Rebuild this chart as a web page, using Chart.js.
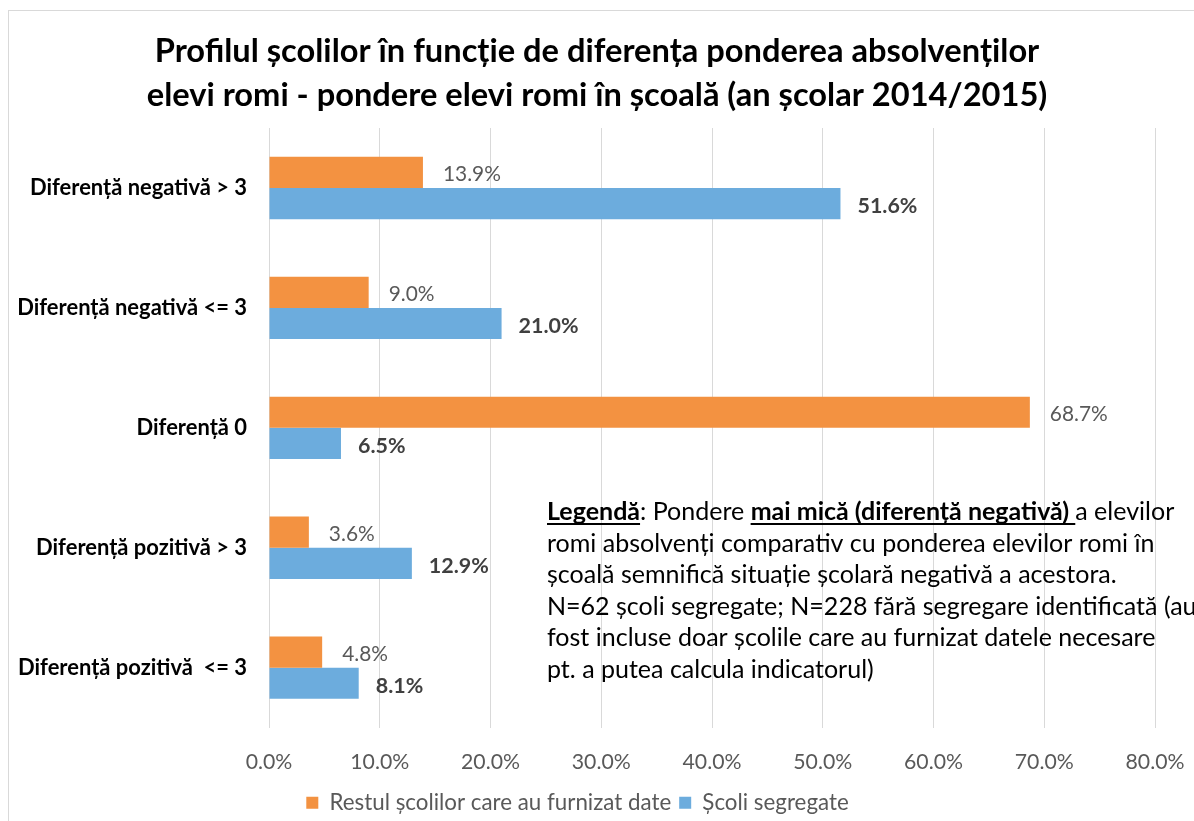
<!DOCTYPE html>
<html><head><meta charset="utf-8">
<script src="https://cdn.jsdelivr.net/npm/chart.js@4.4.1/dist/chart.umd.min.js"></script>
<style>html,body{margin:0;padding:0;background:#fff;}#wrap{width:1194px;height:821px;}</style>
</head><body><div id="wrap"><canvas id="c" width="1194" height="821"></canvas></div>
<script>
const categories = ["Diferență negativă > 3", "Diferență negativă <= 3", "Diferență 0", "Diferență pozitivă > 3", "Diferență pozitivă  <= 3"];
const restulValues = [13.9, 9.0, 68.7, 3.6, 4.8];
const segregateValues = [51.6, 21.0, 6.5, 12.9, 8.1];
const seriesNames = ["Restul școlilor care au furnizat date", "Școli segregate"];
const titleLines = ["Profilul școlilor în funcție de diferența ponderea absolvenților", "elevi romi - pondere elevi romi în școală (an școlar 2014/2015)"];
const noteLines = [
  [{t:"Legendă", b:1, u:1}, {t:": Pondere "}, {t:"mai mică (diferență negativă) ", b:1, u:1}, {t:"a elevilor"}],
  [{t:"romi absolvenți comparativ cu ponderea elevilor romi în"}],
  [{t:"școală semnifică situație școlară negativă a acestora."}],
  [{t:"N=62 școli segregate; N=228 fără segregare identificată (au"}],
  [{t:"fost incluse doar școlile care au furnizat datele necesare"}],
  [{t:"pt. a putea calcula indicatorul)"}]
];
const FAM = "Lato, 'Open Sans', sans-serif";
const mctx = document.createElement('canvas').getContext('2d');
function fit(text, weight, target){
  mctx.font = weight + " 100px " + FAM;
  return 100 * target / mctx.measureText(text).width;
}
const catSize = fit(categories[1], "bold", 230);
const tickSize = fit("10.0%", "normal", 59);
const legSize = fit(seriesNames[0], "normal", 342);
const titleSize = fit(titleLines[0], "bold", 885);
const noteSize = fit(noteLines[1][0].t, "normal", 608);
const dlSize = fit("13.9%", "normal", 58);
const dlbSize = fit("51.6%", "bold", 60);

const ORANGE = "#F39241", BLUE = "#6CACDD";

const deco = {
  id: 'deco',
  beforeDraw(chart){
    const c = chart.ctx;
    c.save();
    c.fillStyle = '#fff'; c.fillRect(0,0,chart.width,chart.height);
    c.strokeStyle = '#d9d9d9'; c.lineWidth = 1;
    c.strokeRect(8.5, 10.5, 1300, 1000);
    c.restore();
  },
  afterDatasetsDraw(chart){
    const c = chart.ctx;
    c.save();
    c.textBaseline = 'middle'; c.textAlign = 'left';
    chart.data.datasets.forEach((ds, di) => {
      const meta = chart.getDatasetMeta(di);
      meta.data.forEach((el, i) => {
        const v = ds.data[i];
        if (di === 0){ c.font = "normal " + dlSize + "px " + FAM; c.fillStyle = '#595959'; c.fillText(v.toFixed(1)+'%', el.x + 20, el.y + 2); }
        else { c.font = "bold " + dlbSize + "px " + FAM; c.fillStyle = '#404040'; c.fillText(v.toFixed(1)+'%', el.x + 17, el.y + 3); }
      });
    });
    c.restore();
  },
  afterDraw(chart){
    const c = chart.ctx;
    c.save();
    c.textAlign = 'center'; c.textBaseline = 'middle'; c.fillStyle = '#000';
    c.font = "bold " + titleSize + "px " + FAM;
    c.fillText(titleLines[0], 597, 51);
    c.fillText(titleLines[1], 597, 95);
    c.textAlign = 'left'; c.textBaseline = 'alphabetic';
    noteLines.forEach((runs, li) => {
      let x = 547; const y = 520 + li * 31.5;
      runs.forEach(r => {
        c.font = (r.b ? "bold " : "normal ") + noteSize + "px " + FAM;
        c.fillText(r.t, x, y);
        const w = c.measureText(r.t).width;
        if (r.u){ c.fillRect(x, y + 3, w, 2); }
        x += w;
      });
    });
    c.restore();
  }
};

new Chart(document.getElementById('c'), {
  type: 'bar',
  data: {
    labels: categories,
    datasets: [
      {label: seriesNames[0], data: restulValues, backgroundColor: ORANGE, borderWidth: 0},
      {label: seriesNames[1], data: segregateValues, backgroundColor: BLUE, borderWidth: 0}
    ]
  },
  options: {
    indexAxis: 'y',
    responsive: false,
    animation: false,
    devicePixelRatio: 1,
    categoryPercentage: 0.52,
    barPercentage: 1,
    layout: {padding: {top: 128, left: 0, right: 39, bottom: -3}},
    scales: {
      x: {
        min: 0, max: 80,
        ticks: {stepSize: 10, callback: v => Number(v).toFixed(1) + '%', color: '#595959', font: {family: FAM, size: tickSize}, padding: 22},
        grid: {color: '#d9d9d9', drawTicks: false},
        border: {display: false},
        afterFit(s){ s.height = 56; s.paddingRight = 0; s.paddingLeft = 0; }
      },
      y: {
        ticks: {color: '#000', font: {family: FAM, size: catSize, weight: 'bold'}, padding: 22},
        grid: {display: false, drawTicks: false},
        border: {display: false},
        afterFit(s){ s.width = 269; }
      }
    },
    plugins: {
      legend: {position: 'bottom', labels: {color: '#595959', font: {family: FAM, size: legSize}, boxWidth: 12, boxHeight: 12, padding: 8}},
      tooltip: {enabled: false},
      title: {display: false}
    }
  },
  plugins: [deco]
});
</script></body></html>
